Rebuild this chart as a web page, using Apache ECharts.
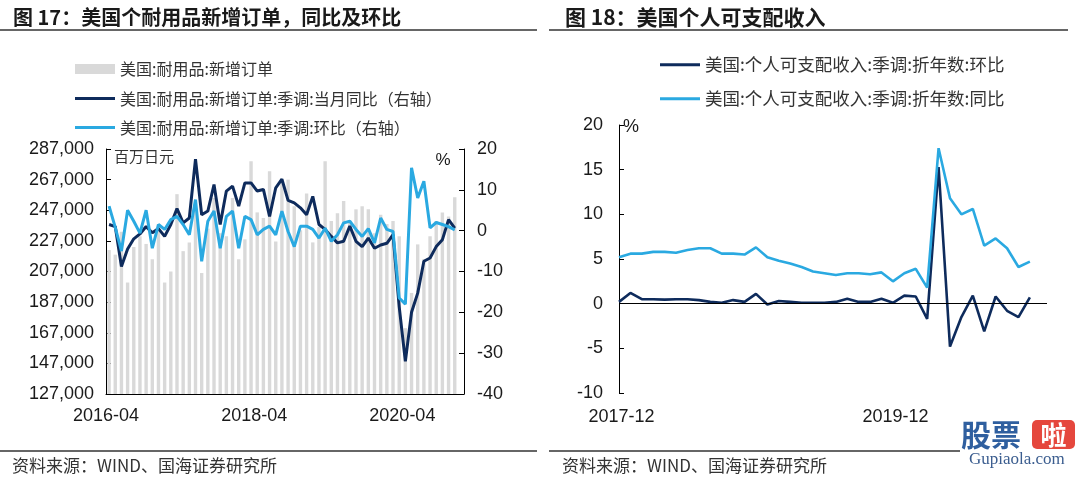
<!DOCTYPE html>
<html><head><meta charset="utf-8">
<script src="https://cdn.jsdelivr.net/npm/echarts@6/dist/echarts.min.js"></script>
<style>html,body{margin:0;padding:0;background:#fff}#c{width:1080px;height:479px}</style>
</head><body><div id="c"></div>
<script>
// ---------- Figure 17 data ----------
const ordersMonths = [
 '2016-04','2016-05','2016-06','2016-07','2016-08','2016-09','2016-10','2016-11','2016-12',
 '2017-01','2017-02','2017-03','2017-04','2017-05','2017-06','2017-07','2017-08','2017-09','2017-10','2017-11','2017-12',
 '2018-01','2018-02','2018-03','2018-04','2018-05','2018-06','2018-07','2018-08','2018-09','2018-10','2018-11','2018-12',
 '2019-01','2019-02','2019-03','2019-04','2019-05','2019-06','2019-07','2019-08','2019-09','2019-10','2019-11','2019-12',
 '2020-01','2020-02','2020-03','2020-04','2020-05','2020-06','2020-07','2020-08','2020-09','2020-10','2020-11','2020-12',
 '2021-01'];
const ordersLevel = [
 221000,218000,233000,199800,223000,230000,225000,215000,238000,
 199800,207000,257500,220300,226000,248000,206000,235000,255000,232000,230000,255000,
 215000,228000,279000,245600,242000,272500,226600,266000,267000,249600,234000,258000,
 226000,236000,279000,240000,245000,253000,240000,247600,249600,247600,232000,244000,
 238000,240000,230000,170000,193000,224700,215000,230000,240000,245600,243000,255500,
 null];
const ordersYoY = [
 1.5,1.0,-8.8,-4.5,-2.0,-0.8,1.0,-0.5,0.5,
 -1.4,1.5,5.4,1.9,3.1,17.5,3.9,4.8,11.3,1.5,9.7,10.9,
 6.0,11.7,11.7,9.7,10.1,3.5,10.5,12.6,7.4,6.8,5.6,3.9,
 8.4,1.5,0.3,-1.4,-3.0,-2.6,1.1,-2.6,-3.9,-1.8,-4.3,-3.5,
 -3.1,-1.0,-18.6,-32.0,-20.0,-15.3,-7.5,-6.7,-3.9,-2.2,2.7,0.6,
 null];
const ordersMoM = [
 6.0,0.8,-5.0,5.0,2.3,-0.6,5.0,-4.3,1.5,
 0.3,2.7,3.5,1.5,-1.0,7.6,-7.5,2.3,4.8,-4.3,3.5,4.8,
 -4.3,3.5,2.7,-1.0,0.3,1.1,-1.0,4.8,-0.2,-3.9,1.1,1.1,
 0.3,-1.8,0.6,-2.6,-1.0,1.9,2.3,0.3,-1.4,0.5,-3.0,3.1,
 0.3,-0.2,-16.5,-18.0,15.4,8.0,12.1,0.7,2.0,1.5,1.0,0.2,
 null];
const leftTicks = [127000,147000,167000,187000,207000,227000,247000,267000,287000];
const rightTicks = [-40,-30,-20,-10,0,10,20];

// ---------- Figure 18 data ----------
const incomeMonths = [
 '2017-12',
 '2018-01','2018-02','2018-03','2018-04','2018-05','2018-06','2018-07','2018-08','2018-09','2018-10','2018-11','2018-12',
 '2019-01','2019-02','2019-03','2019-04','2019-05','2019-06','2019-07','2019-08','2019-09','2019-10','2019-11','2019-12',
 '2020-01','2020-02','2020-03','2020-04','2020-05','2020-06','2020-07','2020-08','2020-09','2020-10','2020-11','2020-12'];
const incomeMoM = [
 0.2,
 1.2,0.5,0.5,0.45,0.5,0.5,0.4,0.2,0.1,0.4,0.2,1.1,
 -0.1,0.3,0.2,0.1,0.1,0.1,0.2,0.55,0.2,0.2,0.55,0.1,
 0.9,0.8,-1.7,15.3,-4.8,-1.5,0.9,-3.1,0.8,-0.8,-1.5,0.7];
const incomeYoY = [
 5.2,
 5.6,5.6,5.8,5.8,5.7,6.0,6.2,6.2,5.6,5.6,5.5,6.3,
 5.2,4.8,4.5,4.1,3.6,3.4,3.2,3.4,3.4,3.3,3.5,2.5,
 3.4,3.9,1.8,17.4,11.8,10.0,10.6,6.5,7.3,6.2,4.1,4.7];

const nameBar = '美国:耐用品:新增订单';
const nameYoY = '美国:耐用品:新增订单:季调:当月同比（右轴）';
const nameMoM = '美国:耐用品:新增订单:季调:环比（右轴）';
const nameIncMoM = '美国:个人可支配收入:季调:折年数:环比';
const nameIncYoY = '美国:个人可支配收入:季调:折年数:同比';

const NAVY = '#0e2b5c', CYAN = '#2aa9e1', GRAY = '#d9d9d9';
const LAT = '"Liberation Sans", Arial, sans-serif';
const CJK = '"Noto Sans CJK SC", sans-serif';
const axisTxt = {color:'#1a1a1a', fontSize:18, fontFamily:LAT};

const chart = echarts.init(document.getElementById('c'), null, {renderer:'canvas'});

function lineLegend(name, left, top, fs){
  return {data:[{name:name, icon:'rect'}], left:left, top:top, padding:0, itemWidth:40, itemHeight:3,
    selectedMode:false, textStyle:{fontSize:fs, color:'#333', fontFamily:CJK}};
}

const option = {
  animation:false,
  backgroundColor:'#fff',
  grid:[
    {left:106, top:149, width:358, height:245},
    {left:619, top:125, width:428, height:268}
  ],
  legend:[
    {data:[{name:nameBar, icon:'rect'}], left:75, top:61, padding:0, itemWidth:40, itemHeight:10,
      selectedMode:false, textStyle:{fontSize:16, color:'#333', fontFamily:CJK}},
    lineLegend(nameYoY, 75, 90.5, 16),
    lineLegend(nameMoM, 75, 119.5, 16),
    lineLegend(nameIncMoM, 660, 56, 17.5),
    lineLegend(nameIncYoY, 660, 90, 17.5)
  ],
  xAxis:[
    {gridIndex:0, type:'category', data:ordersMonths, boundaryGap:true,
      axisLine:{onZero:false, lineStyle:{color:'#000', width:1}},
      axisTick:{inside:true, length:6, interval:(i)=>i%24===0, lineStyle:{color:'#000'}},
      axisLabel:{interval:(i)=>i%24===0, margin:13, formatter:(v)=>'{a|'+v+'}',
        rich:{a:Object.assign({padding:[0,6,0,0]}, axisTxt)}},
      splitLine:{show:false}},
    {gridIndex:1, type:'value', min:0, max:37.5, interval:24,
      axisLine:{show:false, onZero:false}, axisTick:{show:false}, splitLine:{show:false},
      axisLabel:{margin:15, showMaxLabel:false,
        formatter:(v)=> (Number.isInteger(v) && incomeMonths[v]) ? '{a|'+incomeMonths[v]+'}' : '',
        rich:{a:Object.assign({padding:[0,0,0,5]}, axisTxt)}}}
  ],
  yAxis:[
    {gridIndex:0, type:'value', position:'left', min:leftTicks[0], max:leftTicks[leftTicks.length-1], interval:20000,
      axisLine:{show:true, onZero:false, lineStyle:{color:'#000'}},
      axisTick:{show:true, inside:true, length:5, lineStyle:{color:'#000'}},
      axisLabel:Object.assign({margin:12, formatter:(v)=>v.toLocaleString('en-US')}, axisTxt),
      splitLine:{show:false}},
    {gridIndex:0, type:'value', position:'right', min:rightTicks[0], max:rightTicks[rightTicks.length-1], interval:10,
      axisLine:{show:true, onZero:false, lineStyle:{color:'#000'}},
      axisTick:{show:true, inside:true, length:5, lineStyle:{color:'#000'}},
      axisLabel:Object.assign({margin:13}, axisTxt),
      splitLine:{show:false}},
    {gridIndex:1, type:'value', position:'left', min:-10, max:20, interval:5,
      axisLine:{show:true, onZero:false, lineStyle:{color:'#000'}},
      axisTick:{show:true, inside:true, length:5, lineStyle:{color:'#000'}},
      axisLabel:Object.assign({margin:16}, axisTxt),
      splitLine:{show:false}}
  ],
  series:[
    {name:nameBar, type:'bar', xAxisIndex:0, yAxisIndex:0, data:ordersLevel, barWidth:'55%',
      itemStyle:{color:GRAY}, z:1},
    {name:nameYoY, type:'line', xAxisIndex:0, yAxisIndex:1, data:ordersYoY, symbol:'none',
      lineStyle:{color:NAVY, width:3}, itemStyle:{color:NAVY}, z:3},
    {name:nameMoM, type:'line', xAxisIndex:0, yAxisIndex:1, data:ordersMoM, symbol:'none',
      lineStyle:{color:CYAN, width:3}, itemStyle:{color:CYAN}, z:4},
    {name:nameIncMoM, type:'line', xAxisIndex:1, yAxisIndex:2,
      data:incomeMonths.map((m,i)=>[i, incomeMoM[i]]), symbol:'none',
      lineStyle:{color:NAVY, width:2.6}, itemStyle:{color:NAVY}, z:3,
      markLine:{silent:true, symbol:'none', label:{show:false},
        lineStyle:{color:'#000', width:1, type:'solid'}, data:[{yAxis:0}]}},
    {name:nameIncYoY, type:'line', xAxisIndex:1, yAxisIndex:2,
      data:incomeMonths.map((m,i)=>[i, incomeYoY[i]]), symbol:'none',
      lineStyle:{color:CYAN, width:2.6}, itemStyle:{color:CYAN}, z:4}
  ],
  graphic:[
    {type:'text', x:13, y:17, style:{text:'图 17：美国个耐用品新增订单，同比及环比', font:'bold 20px '+CJK, fill:'#1a1a1a', verticalAlign:'middle'}},
    {type:'text', x:565, y:17, style:{text:'图 18：美国个人可支配收入', font:'bold 21px '+CJK, fill:'#1a1a1a', verticalAlign:'middle'}},
    {type:'line', shape:{x1:0, y1:30, x2:537, y2:30}, style:{stroke:'#333', lineWidth:1.5}},
    {type:'line', shape:{x1:549, y1:30, x2:1068, y2:30}, style:{stroke:'#333', lineWidth:1.5}},
    {type:'line', shape:{x1:0, y1:451, x2:537, y2:451}, style:{stroke:'#333', lineWidth:1.5}},
    {type:'line', shape:{x1:549, y1:451, x2:960, y2:451}, style:{stroke:'#333', lineWidth:1.5}},
    {type:'text', x:12, y:466, style:{text:'资料来源：WIND、国海证券研究所', font:'17px '+CJK, fill:'#333', verticalAlign:'middle'}},
    {type:'text', x:562, y:466, style:{text:'资料来源：WIND、国海证券研究所', font:'17px '+CJK, fill:'#333', verticalAlign:'middle'}},
    {type:'text', x:114, y:156, style:{text:'百万日元', font:'15px '+CJK, fill:'#333', verticalAlign:'middle'}},
    {type:'text', x:443, y:160, style:{text:'%', font:'17px '+LAT, fill:'#1a1a1a', align:'center', verticalAlign:'middle'}},
    {type:'text', x:623, y:127, style:{text:'%', font:'18px '+LAT, fill:'#1a1a1a', verticalAlign:'middle'}},
    {type:'text', x:961, y:435, style:{text:'股票', font:'bold 30px '+CJK, fill:'#2f5f9f', verticalAlign:'middle'}},
    {type:'rect', shape:{x:1032, y:420, width:43, height:29, r:5}, style:{fill:'#e5473d'}},
    {type:'text', x:1053.5, y:435, style:{text:'啦', font:'bold 26px '+CJK, fill:'#fff', align:'center', verticalAlign:'middle'}},
    {type:'text', x:969, y:460, style:{text:'Gupiaola.com', font:'17px "Liberation Serif", serif', fill:'#3b5d8f', verticalAlign:'middle'}}
  ]
};
chart.setOption(option);
</script>
</body></html>
